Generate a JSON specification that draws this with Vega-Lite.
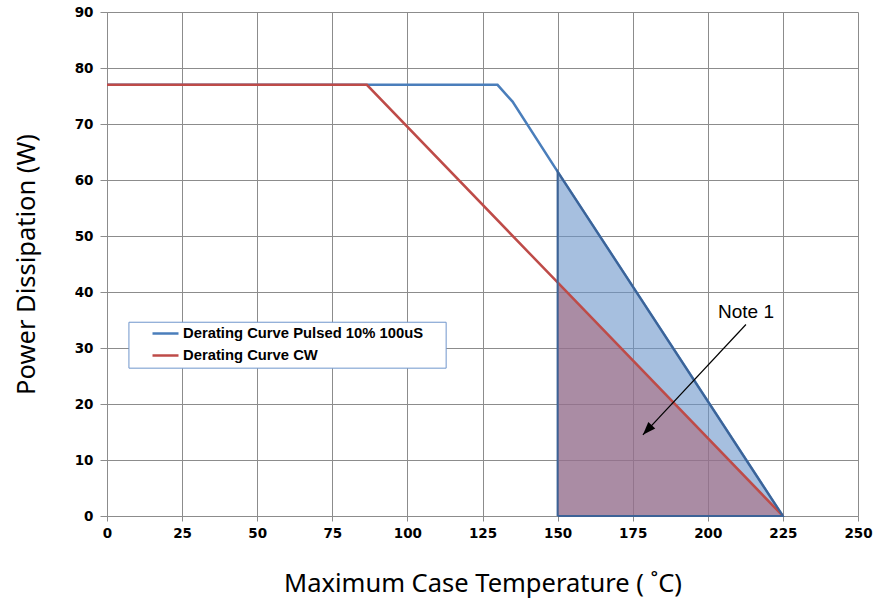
{
  "$schema": "https://vega.github.io/schema/vega-lite/v6.json",
  "width": 751,
  "height": 504,
  "autosize": {"type": "none"},
  "padding": {"left": 107, "top": 12, "right": 16, "bottom": 87},
  "background": "white",
  "config": {
    "view": {"stroke": null},
    "axis": {
      "gridColor": "#8c8c8c",
      "gridWidth": 1,
      "domainColor": "#8c8c8c",
      "tickColor": "#8c8c8c",
      "labelFont": "DejaVu Sans",
      "labelFontWeight": "bold",
      "labelFontSize": 13.5,
      "labelColor": "black",
      "titleFont": "Noto Sans",
      "titleFontWeight": "normal",
      "titleFontSize": 25.5,
      "titleColor": "black"
    }
  },
  "datasets": {
    "curves": [
      {"series": "Derating Curve Pulsed 10% 100uS", "t": 0, "p": 77},
      {"series": "Derating Curve Pulsed 10% 100uS", "t": 130, "p": 77},
      {"series": "Derating Curve Pulsed 10% 100uS", "t": 135, "p": 74},
      {"series": "Derating Curve Pulsed 10% 100uS", "t": 150, "p": 61.5},
      {"series": "Derating Curve Pulsed 10% 100uS", "t": 225, "p": 0},
      {"series": "Derating Curve CW", "t": 0, "p": 77},
      {"series": "Derating Curve CW", "t": 86.5, "p": 77},
      {"series": "Derating Curve CW", "t": 150, "p": 41.7},
      {"series": "Derating Curve CW", "t": 225, "p": 0}
    ],
    "fillPulsed": [{"t": 150, "p": 61.5}, {"t": 225, "p": 0}],
    "fillCW": [{"t": 150, "p": 41.7}, {"t": 225, "p": 0}],
    "outline": [
      {"i": 1, "t": 150, "p": 0},
      {"i": 2, "t": 150, "p": 61.5},
      {"i": 3, "t": 225, "p": 0},
      {"i": 4, "t": 150, "p": 0}
    ],
    "legendBox": [{"x1": 7.3, "x2": 112.9, "y1": 26.4, "y2": 34.6}],
    "note": [{"tx": 212.7, "ty": 35.4, "label": "Note 1", "ax": 212.7, "ay": 34.2, "hx": 178.4, "hy": 14.5}]
  },
  "layer": [
    {
      "data": {"name": "fillPulsed"},
      "mark": {"type": "area", "color": "#6B94CA", "opacity": 0.6},
      "encoding": {
        "x": {
          "field": "t", "type": "quantitative",
          "scale": {"domain": [0, 250], "nice": false, "zero": false},
          "axis": {
            "values": [0, 25, 50, 75, 100, 125, 150, 175, 200, 225, 250],
            "title": "Maximum Case Temperature ( ˚C)",
            "tickSize": 5, "labelPadding": 5, "titlePadding": 32,
            "labelFlush": false
          }
        },
        "y": {
          "field": "p", "type": "quantitative",
          "scale": {"domain": [0, 90], "nice": false},
          "axis": {
            "values": [0, 10, 20, 30, 40, 50, 60, 70, 80, 90],
            "title": "Power Dissipation (W)",
            "tickSize": 7, "labelPadding": 7, "titlePadding": 35
          }
        }
      }
    },
    {
      "data": {"name": "fillCW"},
      "mark": {"type": "area", "color": "#AE5969", "opacity": 0.5},
      "encoding": {
        "x": {"field": "t", "type": "quantitative"},
        "y": {"field": "p", "type": "quantitative"}
      }
    },
    {
      "data": {"name": "curves"},
      "mark": {"type": "line", "strokeWidth": 2.5},
      "encoding": {
        "x": {"field": "t", "type": "quantitative"},
        "y": {"field": "p", "type": "quantitative"},
        "color": {
          "field": "series", "type": "nominal",
          "scale": {
            "domain": ["Derating Curve Pulsed 10% 100uS", "Derating Curve CW"],
            "range": ["#4A7EBB", "#BE4B48"]
          },
          "legend": {
            "orient": "none", "legendX": 44, "legendY": 307,
            "title": null, "symbolType": "stroke", "symbolSize": 676,
            "symbolStrokeWidth": 2.5,
            "labelFont": "Liberation Sans", "labelFontWeight": "bold",
            "labelFontSize": 14.8, "labelColor": "black", "labelOffset": 3,
            "rowPadding": -3, "padding": 0, "labelLimit": 400
          }
        }
      }
    },
    {
      "data": {"name": "outline"},
      "mark": {"type": "line", "color": "#3C6397", "strokeWidth": 2},
      "encoding": {
        "x": {"field": "t", "type": "quantitative"},
        "y": {"field": "p", "type": "quantitative"},
        "order": {"field": "i", "type": "quantitative"}
      }
    },
    {
      "data": {"name": "legendBox"},
      "mark": {"type": "rect", "fill": "white", "stroke": "#7096cc", "strokeWidth": 1},
      "encoding": {
        "x": {"field": "x1", "type": "quantitative"},
        "x2": {"field": "x2"},
        "y": {"field": "y1", "type": "quantitative"},
        "y2": {"field": "y2"}
      }
    },
    {
      "data": {"name": "note"},
      "mark": {"type": "rule", "color": "black", "strokeWidth": 1.2},
      "encoding": {
        "x": {"field": "ax", "type": "quantitative"},
        "y": {"field": "ay", "type": "quantitative"},
        "x2": {"field": "hx"},
        "y2": {"field": "hy"}
      }
    },
    {
      "data": {"name": "note"},
      "mark": {
        "type": "point", "shape": "M0,0L-0.4,1.1L0.4,1.1Z",
        "filled": true, "color": "black", "opacity": 1,
        "size": 560, "angle": 223
      },
      "encoding": {
        "x": {"field": "hx", "type": "quantitative"},
        "y": {"field": "hy", "type": "quantitative"}
      }
    },
    {
      "data": {"name": "note"},
      "mark": {
        "type": "text", "font": "Liberation Sans", "fontSize": 19,
        "color": "black", "align": "center", "baseline": "alphabetic"
      },
      "encoding": {
        "x": {"field": "tx", "type": "quantitative"},
        "y": {"field": "ty", "type": "quantitative"},
        "text": {"field": "label"}
      }
    }
  ]
}
